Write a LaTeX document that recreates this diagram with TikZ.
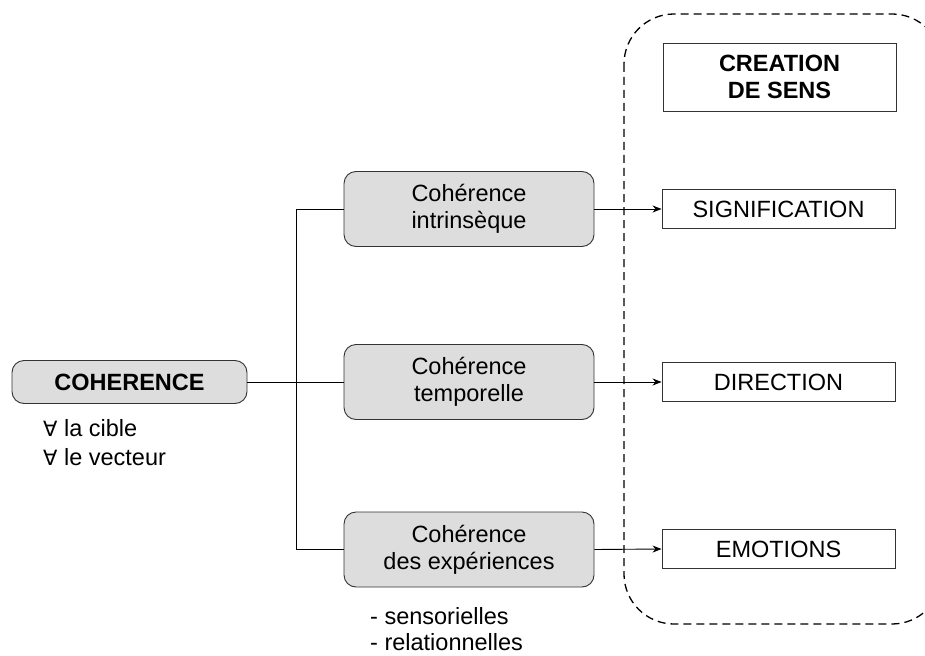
\documentclass[tikz,border=0pt]{standalone}
\usepackage{fontspec}
\setmainfont{Liberation Sans}
\newfontfamily\symfont{DejaVu Sans}
\usetikzlibrary{arrows.meta}
\definecolor{boxgray}{HTML}{DDDDDD}
\definecolor{edgegray}{HTML}{333333}
\tikzset{
  cohbox/.style={draw=edgegray, line width=0.9pt, fill=boxgray, rounded corners=12pt,
    minimum width=250pt, minimum height=75pt, align=center,
    font=\fontsize{23.5}{27}\selectfont, inner sep=0pt},
  resbox/.style={draw=edgegray, line width=0.9pt, fill=white,
    minimum width=233pt, minimum height=39pt, align=center,
    font=\fontsize{23.5}{27}\selectfont, inner sep=0pt},
  plain/.style={font=\fontsize{23.5}{28}\selectfont, anchor=base west, inner sep=0pt},
  link/.style={line width=0.9pt, draw=black},
  arr/.style={line width=0.9pt, -{Stealth[length=9pt,width=7pt]}}
}
\begin{document}
\begin{tikzpicture}[x=1pt,y=-1pt]
\useasboundingbox (0,0) rectangle (925,655);
% dashed region
\draw[line width=1.3pt, dash pattern=on 8pt off 5pt, rounded corners=50pt]
  (624,14) rectangle (942,624);
% main node
\node[cohbox, minimum width=235pt, minimum height=43pt, font=\fontsize{23.5}{27}\selectfont\bfseries]
  (coh) at (129.5,382) {COHERENCE};
\node[plain] (c1) at (43,436) {{\symfont\fontsize{21}{27}\selectfont ∀} la cible};
\node[plain] (c2) at (43,465) {{\symfont\fontsize{21}{27}\selectfont ∀} le vecteur};
% middle boxes
\node[cohbox] (int) at (469,209) {Cohérence\\intrinsèque};
\node[cohbox] (tem) at (469,382) {Cohérence\\temporelle};
\node[cohbox] (exp) at (469,549.5) {Cohérence\\des expériences};
\node[plain] (s1) at (370,624) {- sensorielles};
\node[plain] (s2) at (370,650) {- relationnelles};
% right boxes
\node[resbox, minimum height=68pt, font=\fontsize{23.5}{27}\selectfont\bfseries]
  (cre) at (779.5,77) {CREATION\\DE SENS};
\node[resbox] (sig) at (778.5,209) {SIGNIFICATION};
\node[resbox] (dir) at (778.5,382) {DIRECTION};
\node[resbox] (emo) at (778.5,549) {EMOTIONS};
% connectors
\coordinate (j) at (296,382);
\draw[link] (coh.east) -- (tem.west);
\draw[link] (int.west) -- (int.west -| j) -- (exp.west -| j) -- (exp.west);
\draw[arr] (int.east) -- (sig.west);
\draw[arr] (tem.east) -- (dir.west);
\draw[arr] (exp.east) -- (emo.west);
\end{tikzpicture}
\end{document}
